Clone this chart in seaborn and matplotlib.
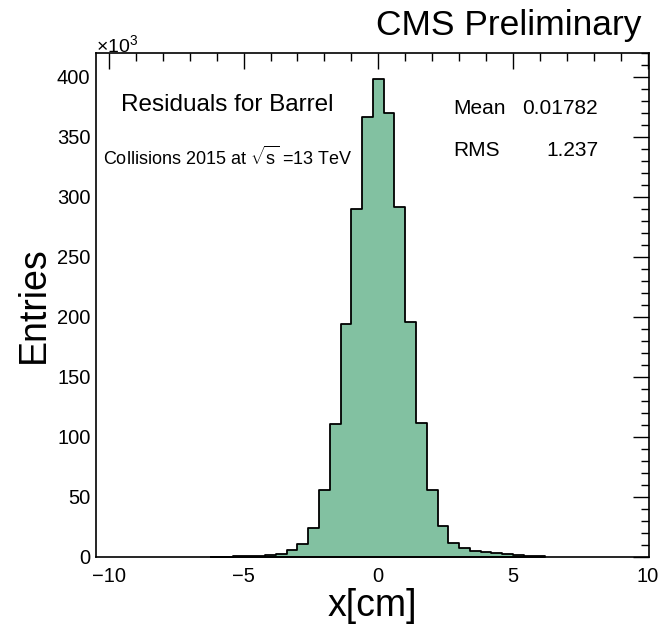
import numpy as np
import pandas as pd
import matplotlib
matplotlib.use("Agg")
import matplotlib.pyplot as plt
from matplotlib.ticker import MultipleLocator
import seaborn as sns

# ---- data (entries in thousands, bin width 0.4 cm) ----
bin_edges = [round(-6.2 + 0.4 * i, 2) for i in range(32)]
bin_centers = [round(-6.0 + 0.4 * i, 2) for i in range(31)]
entries_k = [0.0, 0.4, 0.5, 0.7, 0.9, 1.6, 2.8, 6.2, 10.5, 24.2, 55.5,
             111, 194, 290, 367, 398, 370, 292, 196, 112, 56,
             25.5, 11.6, 7.2, 5.3, 4.4, 3.4, 2.4, 2.0, 0.8, 0.5]
x_ticks = [-10, -5, 0, 5, 10]
y_ticks = [0, 50, 100, 150, 200, 250, 300, 350, 400]
stat_names = ["Mean", "RMS"]
stat_values = ["0.01782", "1.237"]

df = pd.DataFrame({"x": bin_centers, "w": entries_k})

sns.set_style("white")
plt.rcParams['font.family'] = ['Liberation Sans', 'DejaVu Sans']
plt.rcParams['mathtext.fontset'] = 'custom'
plt.rcParams['mathtext.rm'] = 'Liberation Sans'
plt.rcParams['mathtext.it'] = 'Liberation Sans:italic'
plt.rcParams['mathtext.bf'] = 'Liberation Sans:bold'
for key in ['text.color', 'axes.labelcolor', 'xtick.color', 'ytick.color',
            'axes.edgecolor']:
    plt.rcParams[key] = 'black'

W, H = 659, 631
fig = plt.figure(figsize=(W / 100, H / 100), dpi=100)
ax = fig.add_axes([96 / W, 74 / H, 553 / W, 504 / H])

sns.histplot(data=df, x="x", weights="w", bins=bin_edges, element="step",
             fill=True, color="#82c1a1", edgecolor="black", linewidth=1.3,
             alpha=1, ax=ax)

ax.set_xlim(-10.48, 10.05)
ax.set_ylim(0, 420)
ax.set_xticks(x_ticks)
ax.set_yticks(y_ticks)
ax.xaxis.set_minor_locator(MultipleLocator(1))
ax.yaxis.set_minor_locator(MultipleLocator(10))
ax.tick_params(which="both", direction="in", top=True, right=True,
               labeltop=False, labelright=False, color="black", width=1)
ax.tick_params(which="major", length=11.5, labelsize=14.5)
ax.tick_params(axis="x", which="major", pad=7)
ax.tick_params(axis="y", which="major", pad=4)
ax.tick_params(which="minor", length=5.8)
for s in ax.spines.values():
    s.set_visible(True)
    s.set_color("black")
    s.set_linewidth(1.2)

ax.set_xlabel("x[cm]", fontsize=27)
ax.set_ylabel("Entries", fontsize=27)
ax.xaxis.label.set_va("center")
ax.xaxis.set_label_coords(0.5, (557 - 606) / 504)
ax.yaxis.label.set_va("center")
ax.yaxis.set_label_coords((34 - 96) / 553, 0.5)


def fx(x):
    return x / W


def fy(y):
    return 1 - y / H


fig.text(fx(641), fy(25), "CMS Preliminary", ha="right", va="center", fontsize=25.5)
fig.text(fx(96), fy(45), r"$\times$10$^{3}$", ha="left", va="center", fontsize=14)
fig.text(fx(121), fy(105), "Residuals for Barrel", ha="left", va="center", fontsize=17.5)
fig.text(fx(103), fy(157), r"Collisions 2015 at $\sqrt{\mathrm{s}}$ =13 TeV",
         ha="left", va="center", fontsize=13)
fig.text(fx(453), fy(108), stat_names[0], ha="left", va="center", fontsize=15)
fig.text(fx(598), fy(108), stat_values[0], ha="right", va="center", fontsize=15)
fig.text(fx(453), fy(150), stat_names[1], ha="left", va="center", fontsize=15)
fig.text(fx(598), fy(150), stat_values[1], ha="right", va="center", fontsize=15)

fig.savefig("out.png", dpi=100)
